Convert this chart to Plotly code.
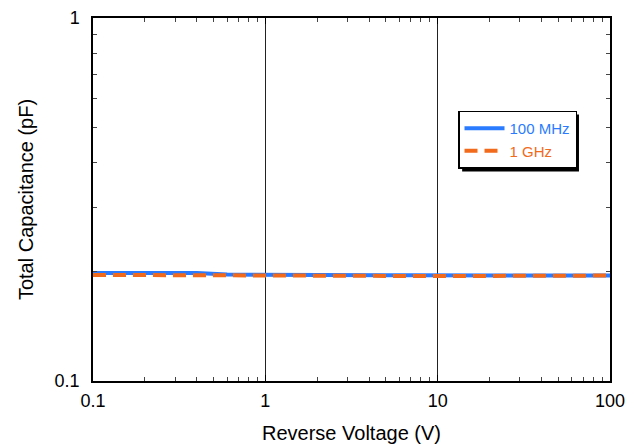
import plotly.graph_objects as go

voltage = [0.1, 0.2, 0.4, 0.6, 1, 2, 3, 5, 7, 10, 20, 30, 50, 100]
cap_100mhz = [0.1985, 0.1990, 0.1985, 0.1965, 0.1960, 0.1960, 0.1955, 0.1955, 0.1955, 0.1952, 0.1952, 0.1952, 0.1952, 0.1952]
cap_1ghz = [0.1960, 0.1960, 0.1960, 0.1958, 0.1958, 0.1958, 0.1950, 0.1948, 0.1945, 0.1945, 0.1953, 0.1945, 0.1952, 0.1952]

x_ticks = [0.1, 1, 10, 100]
x_ticklabels = ["0.1", "1", "10", "100"]
y_ticks = [0.1, 1]
y_ticklabels = ["0.1", "1"]

blue = "#2A7BFF"
orange = "#F26A1B"
font_family = "Liberation Sans, Arial, sans-serif"

fig = go.Figure()
fig.add_trace(go.Scatter(x=voltage, y=cap_100mhz, mode="lines",
                         name=f"<span style='color:{blue}'>100 MHz</span>",
                         line=dict(color=blue, width=4)))
fig.add_trace(go.Scatter(x=voltage, y=cap_1ghz, mode="lines",
                         name=f"<span style='color:{orange}'>1 GHz</span>",
                         line=dict(color=orange, width=4, dash="13px,7px")))

axis_common = dict(
    type="log", showline=True, linecolor="black", linewidth=1.5, mirror="ticks",
    ticks="inside", ticklen=6, tickcolor="black", tickwidth=1,
    tickfont=dict(family=font_family, size=18, color="black"),
    zeroline=False, automargin=False,
    minor=dict(ticks="inside", ticklen=4, tickcolor="#444", showgrid=False, dtick="D1"),
)

fig.update_xaxes(**axis_common, range=[-1, 2], tickvals=x_ticks, ticktext=x_ticklabels,
                 showgrid=True, gridcolor="#222", gridwidth=1, ticklabelstandoff=3,
                 title=dict(text="Reverse Voltage (V)", font=dict(family=font_family, size=20, color="black"), standoff=16))
fig.update_yaxes(**axis_common, range=[-1, 0], tickvals=y_ticks, ticktext=y_ticklabels,
                 showgrid=False, ticklabelstandoff=8,
                 title=dict(text="Total Capacitance (pF)", font=dict(family=font_family, size=20, color="black"), standoff=16))

fig.update_layout(
    width=642, height=447,
    margin=dict(l=93, r=32, t=18, b=66),
    plot_bgcolor="white", paper_bgcolor="white",
    font=dict(family=font_family),
    legend=dict(x=0.706, y=0.745, xanchor="left", yanchor="top",
                bgcolor="white", bordercolor="black", borderwidth=1.5,
                font=dict(family=font_family, size=15), itemwidth=40),
    showlegend=True,
)

# drop shadow behind legend
fig.add_shape(type="rect", xref="paper", yref="paper",
              x0=0.714, x1=0.940, y0=0.577, y1=0.734,
              fillcolor="black", line=dict(width=0), layer="above")

fig.write_html("out.html")
